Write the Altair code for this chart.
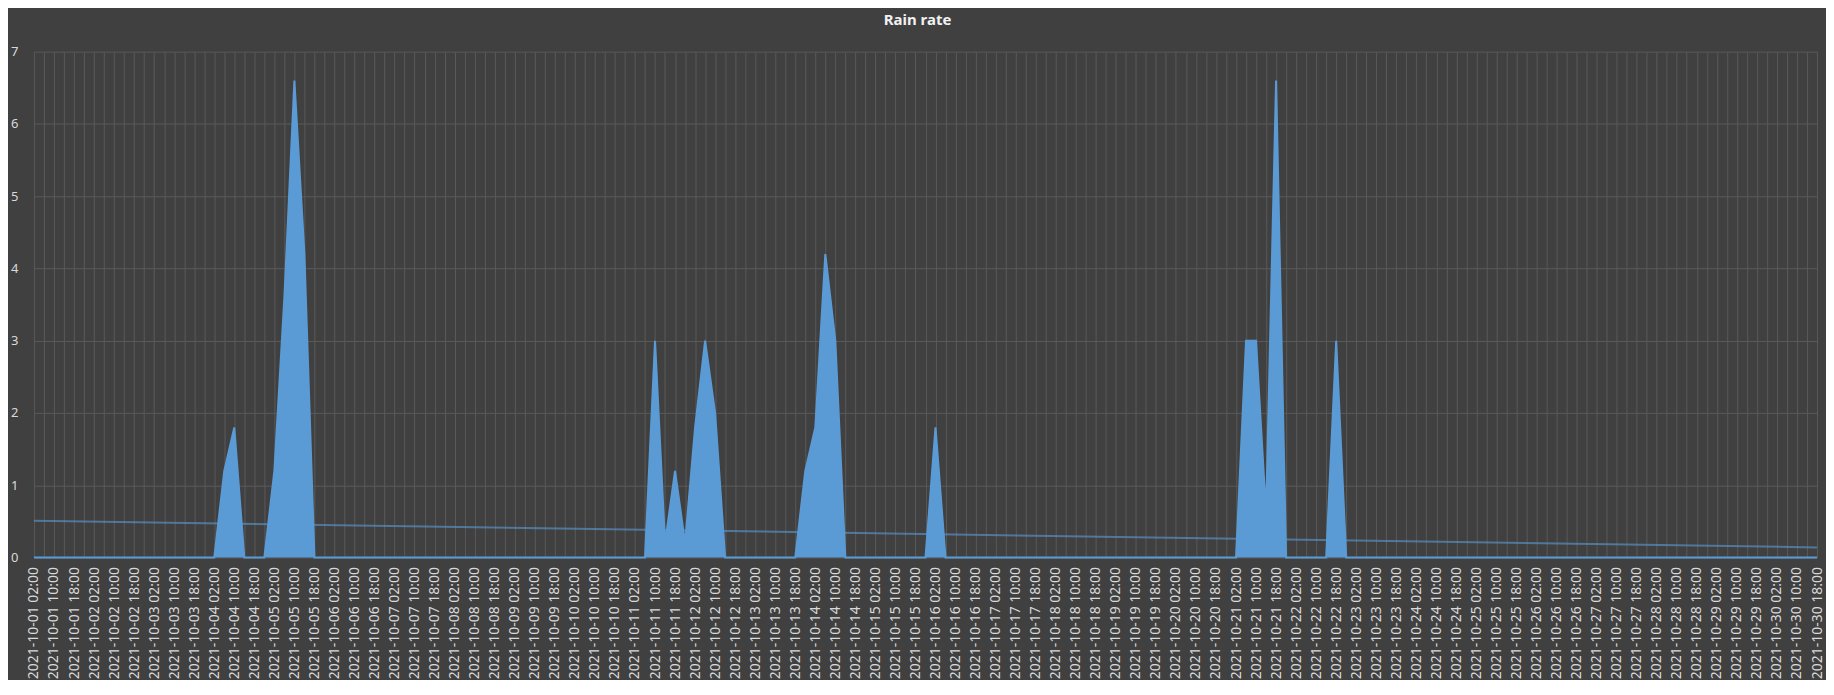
import altair as alt
import pandas as pd

# 4-hourly categories, 2021-10-01 02:00 .. 2021-10-30 18:00
categories = pd.date_range("2021-10-01 02:00", periods=179, freq="4h").strftime("%Y-%m-%d %H:%M").tolist()

# Rain rate values (one per category)
rain = [
    0, 0, 0, 0, 0, 0, 0, 0, 0, 0,
    0, 0, 0, 0, 0, 0, 0, 0, 0, 1.2,
    1.8, 0, 0, 0, 1.2, 3.6, 6.6, 4.2, 0, 0,
    0, 0, 0, 0, 0, 0, 0, 0, 0, 0,
    0, 0, 0, 0, 0, 0, 0, 0, 0, 0,
    0, 0, 0, 0, 0, 0, 0, 0, 0, 0,
    0, 0, 3.0, 0.2, 1.2, 0.2, 1.8, 3.0, 2.0, 0,
    0, 0, 0, 0, 0, 0, 0, 1.2, 1.8, 4.2,
    3.0, 0, 0, 0, 0, 0, 0, 0, 0, 0,
    1.8, 0, 0, 0, 0, 0, 0, 0, 0, 0,
    0, 0, 0, 0, 0, 0, 0, 0, 0, 0,
    0, 0, 0, 0, 0, 0, 0, 0, 0, 0,
    0, 3.0, 3.0, 0.6, 6.6, 0, 0, 0, 0, 0,
    3.0, 0, 0, 0, 0, 0, 0, 0, 0, 0,
    0, 0, 0, 0, 0, 0, 0, 0, 0, 0,
    0, 0, 0, 0, 0, 0, 0, 0, 0, 0,
    0, 0, 0, 0, 0, 0, 0, 0, 0, 0,
    0, 0, 0, 0, 0, 0, 0, 0, 0,
]

y_ticks = [0, 1, 2, 3, 4, 5, 6, 7]
labelled_hours = ["02:00", "10:00", "18:00"]

df = pd.DataFrame({"time": categories, "idx": list(range(len(categories))), "rain": rain})

BG = "#404040"
GRID = "#595959"
TXT = "#d9d9d9"
BLUE = "#5b9bd5"
FONT = "Noto Sans"

hours_js = "[" + ",".join("'%s'" % h for h in labelled_hours) + "]"
label_expr = "indexof(%s, slice(datum.value, 11)) >= 0 ? datum.value : ''" % hours_js

base = alt.Chart(df)

area = base.mark_area(
    color=BLUE, opacity=1, line={"color": BLUE, "strokeWidth": 2}
).encode(
    x=alt.X(
        "time:N",
        sort=None,
        scale=alt.Scale(type="point", padding=0),
        axis=alt.Axis(
            title=None,
            labelAngle=270,
            labelAlign="right",
            labelBaseline="middle",
            labelPadding=9,
            ticks=False,
            domain=False,
            grid=True,
            gridColor=GRID,
            gridWidth=1,
            labelExpr=label_expr,
            labelOverlap=False,
            labelFontSize=14,
            labelColor=TXT,
            labelFont=FONT,
            labelLimit=0,
        ),
    ),
    y=alt.Y(
        "rain:Q",
        scale=alt.Scale(domain=[0, 7], nice=False),
        axis=alt.Axis(
            title=None,
            values=y_ticks,
            format="d",
            ticks=False,
            domain=False,
            grid=True,
            gridColor=GRID,
            gridWidth=1,
            labelFontSize=13,
            labelColor=TXT,
            labelFont=FONT,
            labelPadding=16,
        ),
    ),
)

trend = base.transform_regression(
    "idx", "rain", method="linear", extent=[0, len(categories) - 1]
).mark_line(color=BLUE, strokeWidth=2, opacity=0.6).encode(
    x=alt.X("idx:Q", scale=alt.Scale(domain=[0, len(categories) - 1], nice=False, zero=False), axis=None),
    y=alt.Y("rain:Q"),
)

chart = (
    alt.layer(area, trend)
    .resolve_scale(x="independent")
    .properties(
        width=1787,
        height=507,
        padding={"left": 2, "top": 4, "right": 2, "bottom": 0},
        background=BG,
        title=alt.TitleParams(
            text="Rain rate",
            fontSize=15,
            fontWeight="bold",
            color="#f2f2f2",
            font=FONT,
            anchor="middle",
            offset=18,
            dx=-8,
        ),
    )
    .configure_view(stroke=None)
)

chart.save("out.html", embed_options={"renderer": "svg", "actions": False})
